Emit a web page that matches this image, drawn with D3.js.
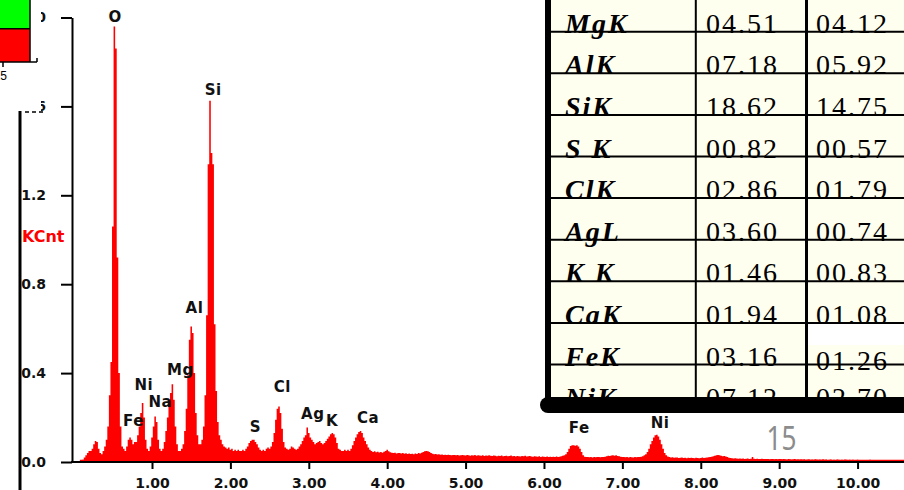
<!DOCTYPE html>
<html>
<head>
<meta charset="utf-8">
<script src="https://cdn.jsdelivr.net/npm/d3@7"></script>
<style>
  html, body { margin: 0; padding: 0; background: #fff; overflow: hidden; }
  svg { display: block; }
</style>
</head>
<body>
<svg id="chart" width="904" height="490"></svg>
<script>
// EDS spectrum: counts (KCnt) per 0.02 keV channel, first channel at 0.10 keV
const channelStart = 0.10;
const channelWidth = 0.02;
const counts = [
  0.00,0.01,0.02,0.03,0.04,0.05,0.05,0.06,0.08,0.095,
  0.09,0.06,0.04,0.035,0.05,0.07,0.10,0.16,0.30,0.45,
  1.06,1.96,1.86,0.92,0.40,0.16,0.07,0.06,0.05,0.07,
  0.10,0.11,0.10,0.08,0.09,0.09,0.12,0.16,0.22,0.265,
  0.20,0.10,0.06,0.05,0.07,0.11,0.16,0.205,0.18,0.10,
  0.06,0.05,0.06,0.09,0.14,0.20,0.25,0.31,0.35,0.28,
  0.16,0.08,0.05,0.05,0.06,0.08,0.14,0.24,0.39,0.55,
  0.61,0.58,0.40,0.22,0.12,0.08,0.08,0.10,0.16,0.30,
  0.66,1.34,1.625,1.39,1.34,0.62,0.32,0.18,0.12,0.10,
  0.08,0.07,0.065,0.06,0.065,0.055,0.06,0.05,0.055,0.05,
  0.055,0.05,0.05,0.055,0.05,0.06,0.07,0.085,0.095,0.10,
  0.10,0.09,0.08,0.065,0.055,0.05,0.055,0.05,0.06,0.065,
  0.06,0.07,0.09,0.13,0.19,0.24,0.25,0.22,0.15,0.09,
  0.065,0.06,0.055,0.06,0.07,0.065,0.06,0.055,0.06,0.07,
  0.08,0.095,0.11,0.12,0.155,0.13,0.11,0.10,0.09,0.08,
  0.085,0.09,0.095,0.085,0.08,0.085,0.095,0.105,0.115,0.125,
  0.13,0.125,0.11,0.085,0.06,0.055,0.05,0.05,0.055,0.05,
  0.055,0.05,0.06,0.075,0.095,0.11,0.125,0.135,0.14,0.13,
  0.11,0.095,0.08,0.065,0.055,0.05,0.045,0.048,0.044,0.046,
  0.043,0.045,0.042,0.046,0.05,0.055,0.048,0.044,0.042,0.04,
  0.042,0.038,0.04,0.041,0.038,0.04,0.037,0.039,0.036,0.038,
  0.036,0.037,0.035,0.038,0.036,0.04,0.038,0.042,0.045,0.048,
  0.05,0.048,0.045,0.04,0.037,0.035,0.036,0.034,0.035,0.033,
  0.034,0.032,0.033,0.031,0.033,0.032,0.03,0.032,0.031,0.03,
  0.031,0.029,0.03,0.032,0.03,0.029,0.031,0.03,0.028,0.03,
  0.029,0.031,0.028,0.03,0.029,0.028,0.03,0.027,0.029,0.028,
  0.03,0.028,0.027,0.029,0.028,0.026,0.028,0.027,0.029,0.026,
  0.027,0.028,0.026,0.027,0.029,0.026,0.027,0.025,0.027,0.026,
  0.025,0.027,0.026,0.028,0.025,0.026,0.027,0.025,0.024,0.026,
  0.025,0.024,0.026,0.023,0.025,0.024,0.022,0.025,0.023,0.024,
  0.022,0.024,0.023,0.025,0.022,0.024,0.026,0.028,0.03,0.035,
  0.045,0.06,0.072,0.075,0.075,0.073,0.075,0.07,0.06,0.045,
  0.03,0.024,0.022,0.023,0.021,0.022,0.02,0.022,0.021,0.023,
  0.022,0.021,0.023,0.022,0.024,0.026,0.028,0.027,0.029,0.03,
  0.028,0.03,0.027,0.026,0.024,0.022,0.023,0.021,0.022,0.02,
  0.022,0.021,0.02,0.022,0.021,0.023,0.022,0.024,0.026,0.03,
  0.035,0.045,0.06,0.08,0.095,0.11,0.12,0.123,0.115,0.10,
  0.08,0.06,0.04,0.03,0.025,0.022,0.02,0.021,0.019,0.02,
  0.02,0.018,0.019,0.02,0.018,0.019,0.017,0.019,0.018,0.019,
  0.018,0.017,0.019,0.018,0.017,0.018,0.02,0.018,0.019,0.02,
  0.021,0.022,0.024,0.026,0.028,0.03,0.031,0.03,0.028,0.026,
  0.027,0.025,0.022,0.019,0.018,0.017,0.016,0.017,0.016,0.015,
  0.016,0.015,0.016,0.014,0.015,0.016,0.014,0.015,0.022,0.015,
  0.014,0.015,0.013,0.014,0.015,0.013,0.014,0.013,0.014,0.012,
  0.013,0.014,0.012,0.013,0.012,0.014,0.013,0.012,0.013,0.012,
  0.011,0.013,0.012,0.011,0.012,0.013,0.011,0.012,0.011,0.012,
  0.011,0.012,0.01,0.011,0.012,0.01,0.011,0.01,0.012,0.011,
  0.01,0.011,0.01,0.012,0.01,0.011,0.009,0.01,0.011,0.009,
  0.01,0.009,0.011,0.01,0.009,0.01,0.009,0.011,0.01,0.009,
  0.01,0.009,0.01,0.008,0.009,0.01,0.009,0.008,0.009,0.008,
  0.009,0.008,0.009,0.01,0.009,0.008,0.007,0,0,0
];

// Peak identification labels: element, label centre (keV), label baseline (KCnt)
const peakNames  = ["O", "Si", "Al", "Mg", "Ni", "Na", "Fe", "S", "Cl", "Ag", "K", "Ca", "Fe", "Ni"];
const peakEnergy = [0.529, 1.782, 1.542, 1.361, 0.896, 1.106, 0.764, 2.318, 2.661, 3.051, 3.296, 3.755, 6.449, 7.48];
const peakLevel  = [1.981, 1.652, 0.670, 0.3925, 0.325, 0.247, 0.160, 0.135, 0.317, 0.195, 0.160, 0.177, 0.130, 0.154];

// Axes
const xTicks = [1, 2, 3, 4, 5, 6, 7, 8, 9, 10];
const yTicks = [0, 0.4, 0.8, 1.2, 1.6, 2.0];
const yTitle = "KCnt";

// Quantification table
const elements  = ["MgK", "AlK", "SiK", "S K", "ClK", "AgL", "K K", "CaK", "FeK", "NiK"];
const weightPct = ["04.51", "07.18", "18.62", "00.82", "02.86", "03.60", "01.46", "01.94", "03.16", "07.12"];
const atomicPct = ["04.12", "05.92", "14.75", "00.57", "01.79", "00.74", "00.83", "01.08", "01.26", "02.70"];

const pageNumber = "15";

const svg = d3.select("#chart");

const x = d3.scaleLinear().domain([0, 10.6]).range([73.6, 904.6]);
const y = d3.scaleLinear().domain([0, 2]).range([462, 17.5]);

// ---- spectrum ----
const spectrum = counts.map((v, i) => ({ e: channelStart + i * channelWidth, v }));

svg.append("line")
  .attr("x1", x(0.08)).attr("x2", 904)
  .attr("y1", y(0) - 1.5).attr("y2", y(0) - 1.5)
  .attr("stroke", "#ff0000").attr("stroke-width", 1.5);

svg.append("path")
  .datum(spectrum)
  .attr("fill", "#ff0000")
  .attr("d", d3.area()
    .x(d => x(d.e))
    .y0(y(0))
    .y1(d => y(d.v))
    .curve(d3.curveStep));

// ---- axes ----
const yAxis = svg.append("g")
  .attr("transform", "translate(72,0)")
  .call(d3.axisLeft(y).tickValues(yTicks).tickFormat(d3.format(".1f"))
    .tickSize(11).tickSizeOuter(0).tickPadding(15));
yAxis.select(".domain").attr("stroke", "#000").attr("stroke-width", 2);
yAxis.selectAll(".tick line").attr("stroke", "#000").attr("stroke-width", 2);
yAxis.selectAll(".tick text")
  .attr("fill", "#111")
  .style("font-family", "'DejaVu Sans', sans-serif")
  .style("font-weight", "bold")
  .style("font-size", "14px");

const xAxis = svg.append("g")
  .attr("transform", `translate(0,${y(0)})`)
  .call(d3.axisBottom(x).tickValues(xTicks).tickFormat(d3.format(".2f"))
    .tickSize(7).tickSizeOuter(0));
xAxis.select(".domain").attr("d", `M71,0H904`).attr("stroke", "#000").attr("stroke-width", 2);
xAxis.selectAll(".tick line").attr("stroke", "#000").attr("stroke-width", 2);
xAxis.selectAll(".tick text")
  .attr("y", 25.5).attr("dy", 0)
  .attr("fill", "#111")
  .style("font-family", "'DejaVu Sans', sans-serif")
  .style("font-weight", "bold")
  .style("font-size", "14px");

svg.append("text")
  .attr("x", 22).attr("y", 242)
  .attr("fill", "#ff0000")
  .style("font-family", "'DejaVu Sans', sans-serif")
  .style("font-weight", "bold")
  .style("font-size", "16px")
  .text(yTitle);

// ---- peak labels ----
svg.append("g").selectAll("text")
  .data(peakNames)
  .join("text")
  .attr("x", (d, i) => x(peakEnergy[i]))
  .attr("y", (d, i) => y(peakLevel[i]))
  .attr("text-anchor", "middle")
  .attr("fill", "#111")
  .style("font-family", "'DejaVu Sans', sans-serif")
  .style("font-weight", "bold")
  .style("font-size", "15px")
  .style("letter-spacing", "0.5px")
  .text(d => d);

// ---- overlapping panel at the left edge ----
svg.append("rect").attr("x", 0).attr("y", 0).attr("width", 41).attr("height", 111).attr("fill", "#fff");
svg.append("rect").attr("x", 0).attr("y", 0).attr("width", 30).attr("height", 28.5).attr("fill", "#00ff00");
svg.append("rect").attr("x", 0).attr("y", 29).attr("width", 30).attr("height", 33).attr("fill", "#ff0000");
svg.append("path")
  .attr("d", "M0,28.7H30 M30,0V62 M0,62H37 M37,62V58 M3,62V67")
  .attr("stroke", "#000").attr("stroke-width", 1.5).attr("fill", "none");
svg.append("text")
  .attr("x", 3.5).attr("y", 80).attr("text-anchor", "middle")
  .style("font-family", "'Liberation Sans', Arial, sans-serif")
  .style("font-size", "12px")
  .text("5");
svg.append("line")
  .attr("x1", 25).attr("x2", 44).attr("y1", 112).attr("y2", 112)
  .attr("stroke", "#000").attr("stroke-width", 1.5).attr("stroke-dasharray", "4,3");
svg.append("line")
  .attr("x1", 20).attr("x2", 20).attr("y1", 111).attr("y2", 490)
  .attr("stroke", "#000").attr("stroke-width", 3);

// ---- quantification table ----
const table = svg.append("g");
table.append("rect")
  .attr("x", 546).attr("y", 0).attr("width", 360).attr("height", 405)
  .attr("fill", "#fffff0");
table.append("rect")
  .attr("x", 808).attr("y", 324).attr("width", 98).attr("height", 21)
  .attr("fill", "#ffffff");

const rowLine = d3.scaleLinear().domain([0, 1]).range([31.7, 73.3]);
const colX = [565, 706, 816];

const cellFont = "'Liberation Serif', 'Times New Roman', serif";

function cellText(values, col, bold) {
  table.append("g").selectAll("text")
    .data(values)
    .join("text")
    .attr("x", colX[col])
    .attr("y", (d, i) => rowLine(i) + 1 + (col === 2 && elements[i] === "FeK" ? 4 : 0))
    .attr("fill", "#000")
    .style("font-family", cellFont)
    .style("font-size", "28px")
    .style("letter-spacing", "2px")
    .style("font-weight", bold ? "bold" : "normal")
    .style("font-style", bold ? "italic" : "normal")
    .text(d => d);
}
cellText(elements, 0, true);
cellText(weightPct, 1, false);
cellText(atomicPct, 2, false);

table.append("g").selectAll("line")
  .data(d3.range(elements.length - 1))
  .join("line")
  .attr("x1", 550).attr("x2", 904)
  .attr("y1", d => rowLine(d)).attr("y2", d => rowLine(d))
  .attr("stroke", "#000").attr("stroke-width", 2);

table.append("line").attr("x1", 695.8).attr("x2", 695.8).attr("y1", 0).attr("y2", 400)
  .attr("stroke", "#000").attr("stroke-width", 2);
table.append("line").attr("x1", 806.5).attr("x2", 806.5).attr("y1", 0).attr("y2", 400)
  .attr("stroke", "#000").attr("stroke-width", 3);
table.append("line").attr("x1", 548).attr("x2", 548).attr("y1", 0).attr("y2", 402)
  .attr("stroke", "#000").attr("stroke-width", 6);
table.append("rect")
  .attr("x", 540).attr("y", 397).attr("width", 380).attr("height", 16).attr("rx", 8)
  .attr("fill", "#000");

// ---- page number ----
svg.append("text")
  .attr("x", 766.5).attr("y", 450)
  .attr("textLength", 30).attr("lengthAdjust", "spacingAndGlyphs")
  .attr("fill", "#8c8c8c")
  .style("font-family", "'Noto Sans', sans-serif")
  .style("font-size", "32px")
  .text(pageNumber);
</script>
</body>
</html>
